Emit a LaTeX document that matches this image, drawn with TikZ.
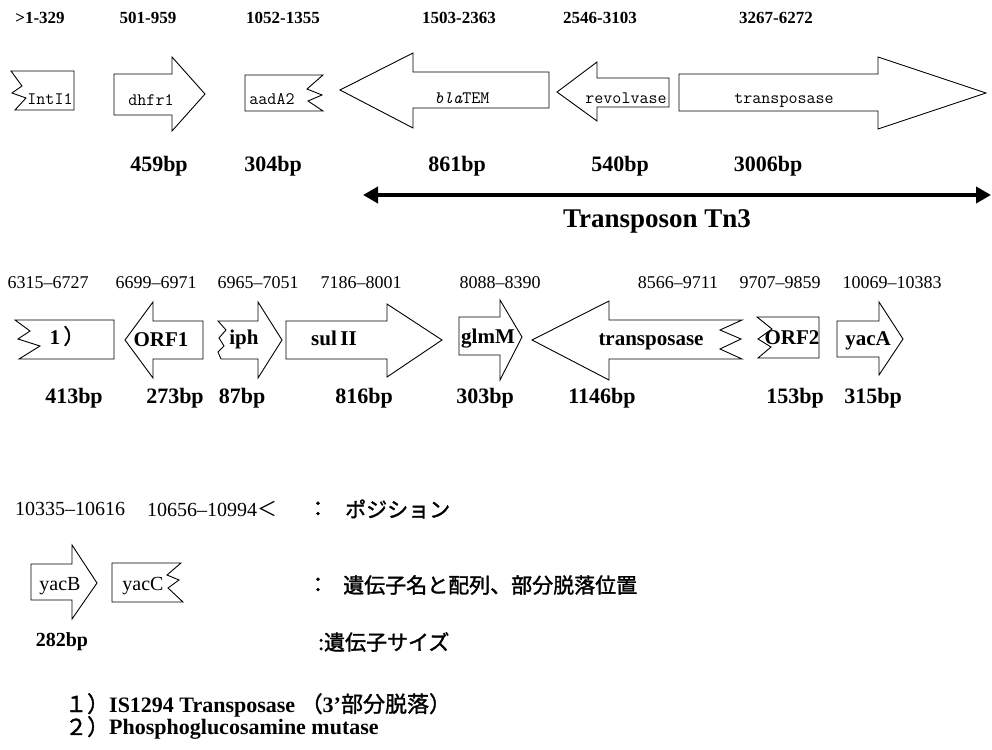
\documentclass[tikz,border=0pt]{standalone}
\usepackage{fontspec}
\setmainfont{Liberation Serif}
\newfontfamily\jpfont[AutoFakeBold=1.5]{Noto Sans CJK JP}
\usetikzlibrary{arrows.meta}

\begin{document}
\begin{tikzpicture}[
    x=1pt, y=-1pt,
    gene/.style={draw, line width=0.9pt, fill=white},
    posA/.style={font=\fontsize{17}{19}\selectfont\bfseries, inner sep=0pt},
    posB/.style={font=\fontsize{18}{20}\selectfont, inner sep=0pt},
    posC/.style={font=\fontsize{20}{22}\selectfont, inner sep=0pt},
    nameA/.style={font=\fontsize{17.5}{19}\selectfont\ttfamily, inner sep=0pt, anchor=base},
    nameB/.style={font=\fontsize{21}{23}\selectfont\bfseries, inner sep=0pt, anchor=base},
    nameC/.style={font=\fontsize{20}{22}\selectfont, inner sep=0pt, anchor=base},
    bp/.style={font=\fontsize{22}{24}\selectfont\bfseries, inner sep=0pt},
    jp/.style={font=\fontsize{21}{23}\selectfont\jpfont\bfseries, inner sep=0pt},
    note/.style={font=\fontsize{22}{24}\selectfont\bfseries, inner sep=0pt, anchor=west},
    tnline/.style={{Triangle[length=15pt,width=16pt]}-{Triangle[length=15pt,width=16pt]}, line width=4.5pt},
]
\useasboundingbox (0,0) rectangle (992,749);

% --- row 1: positions ---
\node[posA] (pIntI) at (40,18) {>1-329};
\node[posA] (pDhfr) at (148,18) {501-959};
\node[posA] (pAadA) at (283,18) {1052-1355};
\node[posA] (pBla) at (459,18) {1503-2363};
\node[posA] (pRev) at (600,18) {2546-3103};
\node[posA] (pTnpA) at (776,18) {3267-6272};

% --- row 1: genes ---
\draw[gene] (74,71) -- (11,71) -- (22,86) -- (12,93) -- (26,98) -- (15,110) -- (74,110) -- cycle;
\draw[gene] (114,74) -- (172,74) -- (172,57) -- (205,94) -- (172,131) -- (172,115) -- (114,115) -- cycle;
\draw[gene] (245,75) -- (323,75) -- (307,89) -- (322,95) -- (308,101) -- (323,111) -- (245,111) -- cycle;
\draw[gene] (549,72) -- (413,72) -- (413,53) -- (340,90) -- (413,128) -- (413,108) -- (549,108) -- cycle;
\draw[gene] (669,78) -- (597,78) -- (597,62) -- (557,92) -- (597,121) -- (597,107) -- (669,107) -- cycle;
\draw[gene] (679,74) -- (878,74) -- (878,57) -- (986,93) -- (878,129) -- (878,111) -- (679,111) -- cycle;

\node[nameA] (nIntI) at (50,105) {IntI1};
\node[nameA] (nDhfr) at (151,106) {dhfr1};
\node[nameA] (nAadA) at (272,105) {aadA2};
\node[nameA] (nBla) at (462,103) {\itshape bla\upshape TEM};
\node[nameA] (nRev) at (626,104) {revolvase};
\node[nameA] (nTnpA) at (784,104) {transposase};

% --- row 1: sizes ---
\node[bp] (bDhfr) at (159,166) {459bp};
\node[bp] (bAadA) at (273,166) {304bp};
\node[bp] (bBla) at (457,166) {861bp};
\node[bp] (bRev) at (620,166) {540bp};
\node[bp] (bTnpA) at (768,166) {3006bp};

% --- Tn3 span ---
\coordinate (tnL) at (363,195);
\coordinate (tnR) at (991,195);
\draw[tnline] (tnL) -- (tnR);
\node[font=\fontsize{27}{29}\selectfont\bfseries, inner sep=0pt] (tn3) at (657,221) {Transposon Tn3};

% --- row 2: positions ---
\node[posB] (pIS) at (48,283) {6315–6727};
\node[posB] (pOrfA) at (156,283) {6699–6971};
\node[posB] (pIph) at (258,283) {6965–7051};
\node[posB] (pSul) at (361,283) {7186–8001};
\node[posB] (pGlm) at (500,283) {8088–8390};
\node[posB] (pTnpB) at (678,283) {8566–9711};
\node[posB] (pOrfB) at (780,283) {9707–9859};
\node[posB] (pYacA) at (892,283) {10069–10383};

% --- row 2: genes ---
\draw[gene] (114,320) -- (15,320) -- (30,331) -- (18,339) -- (40,346) -- (19,359) -- (114,359) -- cycle;
\draw[gene] (203,321) -- (153,321) -- (153,302) -- (125,340) -- (153,378) -- (153,359) -- (203,359) -- cycle;
\draw[gene] (218,321) -- (258,321) -- (258,302) -- (282,340) -- (258,378) -- (258,359) -- (221,359) -- (218,352) -- (224,346) -- (219,338) -- (226,330) -- cycle;
\draw[gene] (286,321) -- (387,321) -- (387,304) -- (442,340) -- (387,377) -- (387,359) -- (286,359) -- cycle;
\draw[gene] (459,317) -- (500,317) -- (500,300) -- (522,337) -- (500,380) -- (500,355) -- (459,355) -- cycle;
\draw[gene] (742,320) -- (609,320) -- (609,301) -- (532,340) -- (609,380) -- (609,359) -- (742,359) -- (720,349) -- (741,339) -- (720,330) -- cycle;
\draw[gene] (819,317) -- (757,317) -- (772,329) -- (758,339) -- (771,347) -- (758,358) -- (819,358) -- cycle;
\draw[gene] (837,321) -- (879,321) -- (879,302) -- (903,339) -- (879,375) -- (879,357) -- (837,357) -- cycle;

\node[nameB] (nIS) at (67,344) {1\,{\jpfont ）}};
\node[nameB] (nOrfA) at (161,346) {ORF1};
\node[nameB] (nIph) at (244,344) {iph};
\node[nameB] (nSul) at (334,345) {sul\,II};
\node[nameB] (nGlm) at (488,343) {glmM};
\node[nameB] (nTnpB) at (651,345) {transposase};
\node[nameB] (nOrfB) at (792,344) {ORF2};
\node[nameB] (nYacA) at (868,345) {yacA};

% --- row 2: sizes ---
\node[bp] (bIS) at (74,398) {413bp};
\node[bp] (bOrfA) at (175,398) {273bp};
\node[bp] (bIph) at (242,398) {87bp};
\node[bp] (bSul) at (364,398) {816bp};
\node[bp] (bGlm) at (485,398) {303bp};
\node[bp] (bTnpB) at (602,398) {1146bp};
\node[bp] (bOrfB) at (795,398) {153bp};
\node[bp] (bYacA) at (873,398) {315bp};

% --- legend ---
\node[posC] (pYacB) at (70,509) {10335–10616};
\node[posC] (pYacC) at (212,509) {10656–10994{\jpfont ＜}};
\node[jp] (kPos) at (318,509) {：};
\node[jp, anchor=west] (tPos) at (345,509) {ポジション};

\draw[gene] (31,564) -- (72,564) -- (72,545) -- (97,583) -- (72,619) -- (72,600) -- (31,600) -- cycle;
\draw[gene] (112,563) -- (181,563) -- (167,575) -- (179,580) -- (168,588) -- (183,602) -- (112,602) -- cycle;
\node[nameC] (nYacB) at (60,590) {yacB};
\node[nameC] (nYacC) at (143,590) {yacC};
\node[jp] (kGene) at (318,585) {：};
\node[jp, anchor=west] (tGene) at (343,585) {遺伝子名と配列、部分脱落位置};

\node[font=\fontsize{20}{22}\selectfont\bfseries, inner sep=0pt] (bYacB) at (62,642) {282bp};
\node[jp, anchor=west] (tSize) at (318,642) {:遺伝子サイズ};

% --- notes ---
\node[note] (note1) at (65,705) {{\jpfont\bfseries １）}IS1294 Transposase {\jpfont\bfseries （}3'{\jpfont\bfseries 部分脱落）}};
\node[note] (note2) at (65,728) {{\jpfont\bfseries ２）}Phosphoglucosamine mutase};

\end{tikzpicture}
\end{document}
